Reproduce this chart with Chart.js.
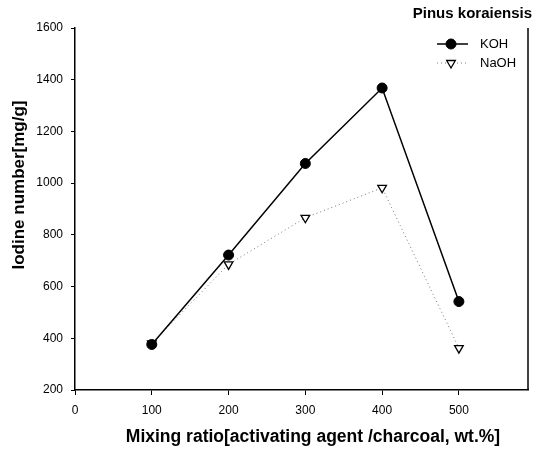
<!DOCTYPE html>
<html>
<head>
<meta charset="utf-8">
<script src="https://cdn.jsdelivr.net/npm/chart.js@4/dist/chart.umd.min.js"></script>
<style>
  html, body { margin: 0; padding: 0; background: #fff; }
  #wrap { width: 542px; height: 451px; position: relative; }
</style>
</head>
<body>
<div id="wrap"><canvas id="lineChart"></canvas></div>
<script>
// data
var ratios = [100, 200, 300, 400, 500];
var kohValues = [376, 722, 1076, 1368, 542];
var naohValues = [380, 686, 866, 982, 362];
var xTicks = [0, 100, 200, 300, 400, 500];
var yTicks = [200, 400, 600, 800, 1000, 1200, 1400, 1600];

var FONT = "'Liberation Sans', Arial, sans-serif";

function toPoints(xs, ys) {
  return xs.map(function(x, i) { return { x: x, y: ys[i] }; });
}

// right frame line, axis titles, chart title and legend
var decorPlugin = {
  id: 'decor',
  afterDraw: function(chart) {
    var ctx = chart.ctx;
    var area = chart.chartArea;
    ctx.save();
    ctx.strokeStyle = '#000';
    ctx.lineWidth = 1.5;
    ctx.beginPath();
    ctx.moveTo(area.right, area.top);
    ctx.lineTo(area.right, area.bottom);
    ctx.stroke();

    ctx.fillStyle = '#000';
    ctx.textBaseline = 'middle';

    // chart title
    ctx.font = 'bold 15px ' + FONT;
    ctx.textAlign = 'right';
    ctx.fillText('Pinus koraiensis', 532, 14);

    // axis titles
    ctx.textAlign = 'center';
    ctx.font = 'bold 17.5px ' + FONT;
    ctx.fillText('Mixing ratio[activating agent /charcoal, wt.%]', 313, 437);
    ctx.save();
    ctx.translate(19, 185);
    ctx.rotate(-Math.PI / 2);
    ctx.font = 'bold 17px ' + FONT;
    ctx.fillText('Iodine number[mg/g]', 0, 0);
    ctx.restore();

    // legend
    var rows = [44, 63];
    chart.data.datasets.forEach(function(ds, i) {
      var y = rows[i];
      ctx.save();
      ctx.strokeStyle = ds.borderColor;
      ctx.lineWidth = ds.borderWidth;
      ctx.setLineDash(ds.borderDash || []);
      ctx.beginPath();
      ctx.moveTo(437, y);
      ctx.lineTo(468, y);
      ctx.stroke();
      ctx.restore();
      ctx.save();
      ctx.fillStyle = ds.pointBackgroundColor;
      ctx.strokeStyle = ds.pointBorderColor;
      ctx.lineWidth = ds.pointBorderWidth;
      Chart.helpers.drawPoint(ctx, {
        pointStyle: ds.pointStyle,
        rotation: ds.pointRotation || 0,
        radius: ds.pointRadius,
        borderWidth: ds.pointBorderWidth
      }, 451, y);
      ctx.restore();
      ctx.fillStyle = '#000';
      ctx.font = '13px ' + FONT;
      ctx.textAlign = 'left';
      ctx.fillText(ds.label, 480, y);
    });
    ctx.restore();
  }
};

var ctx = document.getElementById('lineChart').getContext('2d');
var chart = new Chart(ctx, {
  type: 'line',
  data: {
    datasets: [{
      label: 'KOH',
      data: toPoints(ratios, kohValues),
      borderColor: '#000',
      borderWidth: 1.5,
      backgroundColor: '#000',
      pointStyle: 'circle',
      pointRadius: 5,
      pointBorderWidth: 1,
      pointBackgroundColor: '#000',
      pointBorderColor: '#000'
    }, {
      label: 'NaOH',
      data: toPoints(ratios, naohValues),
      borderColor: '#777',
      borderWidth: 1,
      borderDash: [1, 3],
      pointStyle: 'triangle',
      pointRotation: 180,
      pointRadius: 5,
      pointBorderWidth: 1.3,
      pointBackgroundColor: '#fff',
      pointBorderColor: '#000'
    }]
  },
  options: {
    responsive: true,
    maintainAspectRatio: false,
    animation: false,
    layout: { padding: { top: 28, right: 14, left: 0, bottom: 0 } },
    plugins: {
      legend: { display: false },
      tooltip: { enabled: false }
    },
    scales: {
      x: {
        type: 'linear',
        min: 0,
        max: 590,
        afterBuildTicks: function(scale) {
          scale.ticks = xTicks.map(function(v) { return { value: v }; });
        },
        afterFit: function(scale) { scale.height = 61; },
        grid: { drawOnChartArea: false, color: '#000', tickLength: 5, tickWidth: 1 },
        border: { color: '#000', width: 1.5 },
        ticks: {
          color: '#000',
          font: { family: FONT, size: 12 },
          padding: 8,
          maxRotation: 0,
          callback: function(v) { return String(v); }
        }
      },
      y: {
        min: 200,
        max: 1600,
        afterBuildTicks: function(scale) {
          scale.ticks = yTicks.map(function(v) { return { value: v }; });
        },
        afterFit: function(scale) { scale.width = 75; },
        grid: { drawOnChartArea: false, color: '#000', tickLength: 4, tickWidth: 1 },
        border: { color: '#000', width: 1.5 },
        ticks: {
          color: '#000',
          font: { family: FONT, size: 12 },
          padding: 8,
          callback: function(v) { return String(v); }
        }
      }
    }
  },
  plugins: [decorPlugin]
});
</script>
</body>
</html>
